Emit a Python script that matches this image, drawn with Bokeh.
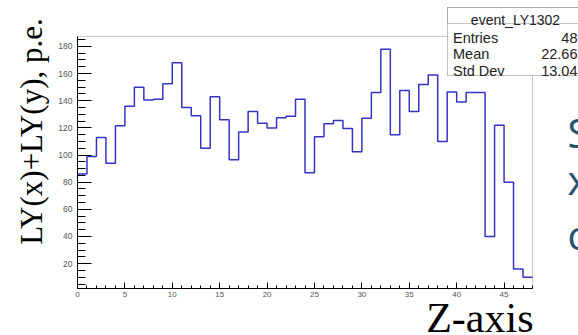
import math

from bokeh.core.properties import value
from bokeh.embed import file_html
from bokeh.models import BoxAnnotation, FixedTicker, Label, LinearAxis, Range1d
from bokeh.plotting import figure
from bokeh.resources import INLINE

# ---- histogram event_LY1302: summed light yield per Z bin ----
bin_low = 0
bin_high = 48
counts = [86, 99, 113, 94, 121.5, 136, 150, 140.5, 141, 152.5, 168, 135,
          129, 105, 143, 126, 96.5, 117, 132, 123.5, 120, 127.5, 128.5, 141,
          87, 113.5, 123, 125.5, 119.5, 102.5, 127, 146, 178, 115, 147.5, 132,
          152, 159, 110, 146.5, 139, 146, 146, 40, 122, 80, 16, 10]

x_major = [0, 5, 10, 15, 20, 25, 30, 35, 40, 45]
y_major = [20, 40, 60, 80, 100, 120, 140, 160, 180]

hist_name = "event_LY1302"
stat_names = ["Entries", "Mean", "Std Dev"]
stat_values = ["48", "22.66", "13.04"]

x_title = "Z-axis"
y_title = "LY(x)+LY(y), p.e."
side_letters = ["S", "x", "c"]

# ---- canvas geometry: the histogram pad sits inside a wider canvas ----
W, H = 578, 335
F_LEFT, F_RIGHT, F_TOP, F_BOTTOM = 77, 532, 36, 288
Y_LO, Y_HI = 1.7, 187.3


def xd(px):
    """canvas x pixel -> data x"""
    return bin_low + (px - F_LEFT) / (F_RIGHT - F_LEFT) * (bin_high - bin_low)


def yd(py):
    """canvas y pixel -> data y"""
    return Y_HI - (py - F_TOP) / (F_BOTTOM - F_TOP) * (Y_HI - Y_LO)


p = figure(width=W, height=H, output_backend="svg", toolbar_location=None,
           x_range=Range1d(xd(0), xd(W)), y_range=Range1d(yd(H), yd(0)),
           x_axis_type=None, y_axis_type=None, min_border=0)
p.outline_line_color = None
p.background_fill_color = "white"
p.border_fill_color = "white"
p.xgrid.visible = False
p.ygrid.visible = False

# pad frame (top and right edges show; left/bottom are covered by the axes)
p.add_layout(BoxAnnotation(left=bin_low, right=bin_high, bottom=Y_LO, top=Y_HI,
                           fill_color=None, line_color="#444444",
                           line_width=1, level="underlay"))

# bottom axis, ticks pointing into the pad
xaxis = LinearAxis(fixed_location=Y_LO, bounds=(bin_low, bin_high),
                   ticker=FixedTicker(
                       ticks=x_major,
                       minor_ticks=[v for v in range(bin_low, bin_high + 1)
                                    if v not in x_major]))
xaxis.axis_line_color = "black"
xaxis.major_tick_in = 6
xaxis.major_tick_out = 0
xaxis.minor_tick_in = 3
xaxis.minor_tick_out = 0
xaxis.major_tick_line_color = "black"
xaxis.minor_tick_line_color = "black"
xaxis.major_label_text_font = "Liberation Sans"
xaxis.major_label_text_font_size = "8px"
xaxis.major_label_text_color = "#555555"
xaxis.major_label_standoff = 3
p.add_layout(xaxis, "below")

# left axis
yaxis = LinearAxis(fixed_location=bin_low, bounds=(Y_LO, Y_HI),
                   ticker=FixedTicker(
                       ticks=y_major,
                       minor_ticks=[v for v in range(5, 190, 5)
                                    if v not in y_major]))
yaxis.axis_line_color = "black"
yaxis.major_tick_in = 14
yaxis.major_tick_out = 0
yaxis.minor_tick_in = 8
yaxis.minor_tick_out = 0
yaxis.major_tick_line_color = "black"
yaxis.minor_tick_line_color = "black"
yaxis.major_label_text_font = "Liberation Sans"
yaxis.major_label_text_font_size = "8.5px"
yaxis.major_label_text_color = "#555555"
yaxis.major_label_standoff = 5
yaxis.major_label_orientation = "horizontal"
p.add_layout(yaxis, "left")

# histogram outline
edges = list(range(bin_low, bin_high + 1))
p.step(x=edges, y=counts + [counts[-1]], mode="after",
       line_color="#3434c4", line_width=1.5)

# axis titles
p.add_layout(Label(x=xd(31), y=yd(131), text=y_title, angle=math.pi / 2,
                   text_align="center", text_baseline="middle",
                   text_font="Liberation Serif", text_font_size="31px",
                   text_color="black"))
p.add_layout(Label(x=xd(533), y=yd(317), text=x_title,
                   text_align="right", text_baseline="alphabetic",
                   text_font="Liberation Serif", text_font_size="42px",
                   text_color="black"))

# statistics box
BOX_L, BOX_R, BOX_T, BOX_SEP, BOX_B = 447, 582, 7, 23, 75
p.add_layout(BoxAnnotation(left=xd(BOX_L), right=xd(BOX_R), top=yd(BOX_T),
                           bottom=yd(BOX_B), fill_color="white", fill_alpha=1,
                           line_color="#333333", line_width=1, level="overlay"))
p.add_layout(BoxAnnotation(left=xd(BOX_L), right=xd(BOX_R), top=yd(BOX_T),
                           bottom=yd(BOX_SEP), fill_color="white", fill_alpha=1,
                           line_color="#333333", line_width=1, level="overlay"))
p.add_layout(Label(x=xd(515), y=yd(19.5), text=hist_name, text_align="center",
                   text_baseline="alphabetic", text_font="Liberation Sans",
                   text_font_size="14px", text_color="#222222", level="overlay"))
for i, (name, val) in enumerate(zip(stat_names, stat_values)):
    base = 37 + i * 16.8
    p.add_layout(Label(x=xd(452.5), y=yd(base), text=name, text_align="left",
                       text_baseline="alphabetic", text_font="Liberation Sans",
                       text_font_size="14.5px", text_color="#222222",
                       level="overlay"))
    p.add_layout(Label(x=xd(577), y=yd(base), text=val, text_align="right",
                       text_baseline="alphabetic", text_font="Liberation Sans",
                       text_font_size="14.5px", text_color="#222222",
                       level="overlay"))

# letters of the neighbouring slide text
for letter, base in zip(side_letters, [132, 179, 234]):
    p.add_layout(Label(x=xd(567), y=yd(base), text=letter, text_align="left",
                       text_baseline="alphabetic", text_font="Open Sans",
                       text_font_size="40px", text_color="#1e5570"))

open("out.html", "w").write(file_html(p, INLINE))
